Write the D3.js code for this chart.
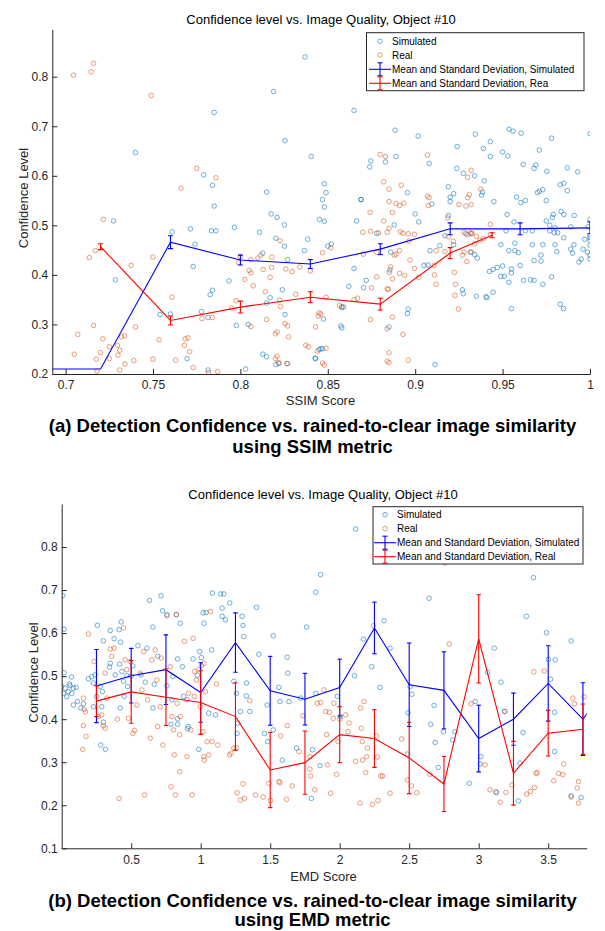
<!DOCTYPE html>
<html>
<head>
<meta charset="utf-8">
<script src="https://cdn.jsdelivr.net/npm/d3@7"></script>
<style>
  body { margin: 0; background: #fff; }
  text { font-family: "Liberation Sans", Arial, sans-serif; }
</style>
</head>
<body>
<script>
// ---------- panel (a): SSIM ----------
var ssimSim = [
[0.740,0.647],[0.785,0.728],[0.779,0.602],[0.784,0.581],[0.815,0.567],[0.819,0.770],[0.8255,0.671],[0.837,0.840],[0.8405,0.639],[0.848,0.584],[0.849,0.566],[0.865,0.732],[0.869,0.552],[0.8746,0.630],[0.874,0.618],[0.883,0.628],[0.8885,0.692],[0.889,0.639],[0.8955,0.566],[0.9017,0.680],[0.908,0.625],[0.919,0.578],[0.920,0.557],[0.9238,0.615],[0.924,0.659],[0.9276,0.605],[0.9344,0.684],[0.934,0.600],[0.9395,0.590],[0.938,0.561],[0.939,0.655],[0.943,0.669],[0.943,0.639],[0.950,0.648],[0.953,0.640],[0.9537,0.694],[0.956,0.690],[0.9606,0.686],[0.9618,0.623],[0.958,0.557],[0.968,0.615],[0.969,0.622],[0.970,0.566],[0.971,0.652],[0.973,0.572],[0.9753,0.609],[0.978,0.676],[0.983,0.582],[0.985,0.585],[0.987,0.616],[0.987,0.570],[0.993,0.608],[1.0,0.685],
[0.7274,0.509],[0.7285,0.390],[0.754,0.320],[0.760,0.321],[0.761,0.487],[0.7714,0.493],[0.774,0.462],[0.773,0.417],[0.7695,0.231],[0.7777,0.326],[0.7815,0.314],[0.7827,0.360],[0.784,0.369],[0.7834,0.489],[0.786,0.489],[0.785,0.539],[0.7815,0.208],[0.7935,0.388],[0.7966,0.496],[0.7977,0.298],[0.803,0.210],[0.8045,0.300],[0.811,0.486],[0.8128,0.444],[0.815,0.343],[0.817,0.354],[0.8176,0.523],[0.821,0.516],[0.8203,0.474],[0.8252,0.501],[0.8252,0.458],[0.8255,0.320],[0.824,0.370],[0.827,0.431],[0.8128,0.240],[0.815,0.235],[0.8203,0.219],[0.822,0.221],[0.827,0.221],[0.8366,0.449],[0.8385,0.472],[0.8427,0.232],[0.845,0.249],[0.8452,0.512],[0.848,0.537],[0.848,0.508],[0.847,0.552],[0.850,0.458],
[0.852,0.462],[0.865,0.413],[0.862,0.377],[0.8705,0.374],[0.872,0.389],[0.858,0.334],[0.859,0.335],[0.8575,0.297],[0.858,0.293],[0.8475,0.311],[0.846,0.251],[0.847,0.251],[0.843,0.231],[0.869,0.552],[0.8665,0.509],[0.878,0.484],[0.888,0.501],[0.886,0.446],[0.8855,0.410],[0.896,0.331],[0.8955,0.322],[0.885,0.295],[0.9,0.523],[0.902,0.507],[0.9095,0.543],[0.9085,0.449],[0.905,0.419],[0.9073,0.420],[0.9113,0.219],[0.914,0.459],[0.917,0.479],[0.922,0.564],[0.920,0.548],[0.919,0.520],[0.927,0.370],[0.9275,0.362],[0.922,0.461],[0.929,0.483],[0.932,0.483],[0.932,0.446],[0.934,0.441],[0.9355,0.434],[0.935,0.357],[0.9385,0.567],[0.945,0.548],[0.9446,0.411],[0.9405,0.356],[0.941,0.354],[0.9446,0.365],[0.9425,0.407],[0.947,0.415],[0.949,0.461],[0.950,0.418],[0.952,0.489],[0.9526,0.522],[0.949,0.397],[0.951,0.397],[0.9535,0.449],[0.955,0.332],[0.9565,0.507],[0.957,0.464],[0.957,0.449],[0.955,0.412],[0.955,0.404],[0.9536,0.385],[0.959,0.445],[0.960,0.419],[0.9604,0.546],[0.963,0.550],[0.962,0.389],[0.966,0.390],[0.968,0.389],[0.963,0.489],[0.967,0.489],[0.968,0.429],[0.967,0.461],[0.971,0.569],[0.973,0.461],[0.972,0.440],[0.972,0.428],[0.973,0.381],[0.975,0.550],[0.975,0.509],[0.977,0.500],[0.978,0.396],[0.9785,0.516],[0.977,0.489],[0.979,0.522],[0.980,0.495],[0.9795,0.485],[0.9815,0.485],[0.980,0.461],[0.981,0.447],[0.9835,0.528],[0.985,0.522],[0.983,0.341],[0.9848,0.332],[0.985,0.475],[0.989,0.452],[0.990,0.444],[0.989,0.497],[0.991,0.520],[0.9908,0.461],[0.9937,0.426],[0.995,0.432],[0.996,0.452],[0.997,0.472],[0.999,0.497],[1.0,0.480],[1.0,0.512],[0.9985,0.446],[1.0,0.440],[1.0,0.460],[1.0,0.470],[1.0,0.475],[1.0,0.432]
];
var ssimReal = [
[0.7045,0.803],[0.7146,0.810],[0.716,0.827],[0.749,0.762],[0.775,0.615],[0.786,0.596],[0.766,0.575],[0.880,0.643],[0.883,0.639],[0.882,0.588],[0.885,0.573],[0.892,0.581],[0.907,0.642],[0.908,0.556],[0.930,0.597],[0.932,0.611],[0.9375,0.573],[0.930,0.556],
[0.7216,0.512],[0.717,0.449],[0.7136,0.435],[0.716,0.298],[0.707,0.280],[0.705,0.240],[0.7213,0.271],[0.7176,0.230],[0.720,0.243],[0.718,0.206],[0.725,0.255],[0.725,0.231],[0.730,0.238],[0.7297,0.258],[0.732,0.275],[0.7337,0.277],[0.731,0.248],[0.734,0.220],[0.731,0.208],[0.7375,0.419],[0.740,0.295],[0.739,0.227],[0.750,0.436],[0.7535,0.269],[0.750,0.230],[0.7608,0.355],[0.763,0.228],[0.7685,0.271],[0.770,0.273],[0.768,0.258],[0.771,0.245],[0.773,0.213],[0.7817,0.203],[0.787,0.205],[0.778,0.312],[0.784,0.314],[0.795,0.333],[0.7975,0.348],[0.800,0.437],[0.799,0.425],[0.8025,0.391],[0.805,0.409],[0.806,0.404],[0.8074,0.378],[0.806,0.296],[0.806,0.431],[0.810,0.434],[0.8117,0.440],[0.8143,0.366],[0.813,0.411],[0.815,0.310],[0.8178,0.415],[0.818,0.436],[0.817,0.395],[0.820,0.281],[0.821,0.285],[0.8227,0.469],[0.821,0.236],[0.820,0.231],[0.822,0.223],[0.823,0.336],[0.8225,0.349],[0.8255,0.302],[0.827,0.297],[0.8275,0.275],[0.8265,0.221],[0.826,0.412],[0.8296,0.407],[0.8317,0.361],[0.834,0.416],[0.8374,0.258],[0.839,0.255],[0.840,0.408],[0.8445,0.317],[0.846,0.321],[0.844,0.246],[0.847,0.222],[0.848,0.218],[0.849,0.252],
[0.847,0.445],[0.8517,0.455],[0.849,0.355],[0.845,0.323],[0.843,0.295],[0.8567,0.338],[0.858,0.336],[0.867,0.353],[0.865,0.350],[0.8704,0.442],[0.870,0.486],[0.8742,0.526],[0.8745,0.488],[0.879,0.485],[0.878,0.446],[0.878,0.396],[0.875,0.374],[0.8744,0.310],[0.885,0.548],[0.889,0.544],[0.887,0.526],[0.891,0.540],[0.8935,0.545],[0.882,0.509],[0.885,0.494],[0.884,0.486],[0.8915,0.487],[0.893,0.484],[0.896,0.483],[0.8963,0.468],[0.891,0.449],[0.889,0.442],[0.888,0.440],[0.886,0.416],[0.8852,0.405],[0.887,0.392],[0.891,0.403],[0.894,0.399],[0.8846,0.371],[0.884,0.372],[0.887,0.315],[0.884,0.291],[0.893,0.280],[0.896,0.228],[0.885,0.223],[0.884,0.226],[0.885,0.243],[0.8996,0.482],[0.897,0.430],[0.8996,0.413],[0.902,0.395],[0.9108,0.419],[0.911,0.400],[0.912,0.381],[0.907,0.559],[0.9075,0.540],[0.912,0.449],[0.917,0.447],[0.9186,0.515],[0.919,0.477],[0.9218,0.468],[0.9224,0.405],[0.923,0.381],[0.9227,0.359],[0.9247,0.331],[0.925,0.542],[0.929,0.539],[0.932,0.542],[0.931,0.562],[0.928,0.486],[0.930,0.481],[0.9315,0.485],[0.9325,0.484],[0.935,0.478],[0.937,0.470],[0.939,0.473],[0.934,0.463],[0.928,0.446],[0.9315,0.446],[0.927,0.440],[0.9295,0.427],[0.943,0.502],[0.943,0.481]
];
var ssimSimBins  = [0.68, 0.72, 0.76, 0.80, 0.84, 0.88, 0.92, 0.96, 1.00];
var ssimSimMean  = [0.210, 0.210, 0.466, 0.430, 0.422, 0.452, 0.493, 0.493, 0.495];
var ssimSimStd   = [0, 0, 0.013, 0.010, 0.009, 0.011, 0.012, 0.012, 0.012];
var ssimRealBins = [0.72, 0.76, 0.80, 0.84, 0.88, 0.92, 0.944];
var ssimRealMean = [0.457, 0.308, 0.335, 0.355, 0.341, 0.444, 0.480];
var ssimRealStd  = [0.006, 0.009, 0.012, 0.011, 0.012, 0.011, 0.005];
var ssimXTicks = [0.7, 0.75, 0.8, 0.85, 0.9, 0.95, 1];
var ssimYTicks = [0.2, 0.3, 0.4, 0.5, 0.6, 0.7, 0.8];

// ---------- panel (b): EMD ----------
var emdSim = [
[0.007,0.687],[0.017,0.609],[0.017,0.508],[0.0,0.476],[0.024,0.472],[0.06,0.478],[0.048,0.464],[0.012,0.46],[0.036,0.452],[0.072,0.46],[0.084,0.472],[0.103,0.474],[0.055,0.482],[0.07,0.498],[0.084,0.433],[0.113,0.441],[0.137,0.426],[0.156,0.436],[0.192,0.494],[0.216,0.499],[0.228,0.484],[0.24,0.503],[0.257,0.618],[0.3,0.582],[0.349,0.606],[0.377,0.587],[0.413,0.608],[0.428,0.626],[0.423,0.579],[0.276,0.476],[0.252,0.453],[0.228,0.429],[0.293,0.464],[0.288,0.429],[0.281,0.34],[0.315,0.33],[0.3,0.393],[0.344,0.521],[0.349,0.53],[0.385,0.503],[0.416,0.528],[0.433,0.511],[0.445,0.488],[0.469,0.501],[0.474,0.476],[0.45,0.453],[0.421,0.426],[0.5,0.5],[0.512,0.524],[0.548,0.571],[0.57,0.503],[0.601,0.486],[0.613,0.565],[0.632,0.676],[0.656,0.614],[0.69,0.546],[0.666,0.481],[0.656,0.426],[0.714,0.687],[0.726,0.652],[0.757,0.643],[0.825,0.643],[0.853,0.623],[0.834,0.54],[0.8,0.499],[0.757,0.478],[0.786,0.388],[0.834,0.388],[0.834,0.401],[0.793,0.445],[0.877,0.453],[0.868,0.522],[0.901,0.445],[0.911,0.383],[0.906,0.378],[0.945,0.54],[0.976,0.502],[0.993,0.557],[1.005,0.543],[1.017,0.647],[1.024,0.623],[1.038,0.648],[0.986,0.33],[1.058,0.414],[1.084,0.693],[1.079,0.561],[1.106,0.41],[1.144,0.691],[1.166,0.691],[1.154,0.658],[1.154,0.639],[1.178,0.631],[1.209,0.67],[1.238,0.488],[1.257,0.46],[1.262,0.367],[1.267,0.391],[1.286,0.418],[1.298,0.639],[1.305,0.618],[1.31,0.592],[1.329,0.484],[1.329,0.454],[1.353,0.418],[1.401,0.66],[1.418,0.551],[1.459,0.367],[1.478,0.433],[1.483,0.348],[1.522,0.594],[1.522,0.375],[1.562,0.474],[1.57,0.441],[1.587,0.305],[1.622,0.544],[1.627,0.507],[1.635,0.441],[1.69,0.333],[1.719,0.449],[1.762,0.614],[1.796,0.216],[1.805,0.329],[1.827,0.695],[1.863,0.736],[1.829,0.46],[1.858,0.292],
[1.982,0.453],[2.006,0.406],[2.107,0.501],[2.17,0.586],[2.23,0.522],[2.29,0.474],[2.319,0.629],[2.362,0.565],[2.492,0.415],[2.507,0.476],[2.519,0.458],[2.488,0.319],[2.643,0.681],[2.655,0.388],[2.679,0.432],[2.687,0.346],[2.709,0.288],[2.747,0.371],[2.812,0.352],[2.829,0.371],[2.932,0.251],[2.975,0.441],[3.016,0.313],[3.011,0.296],[3.064,0.509],[3.112,0.565],[3.127,0.229],[3.16,0.486],[3.184,0.418],[3.285,0.21],[3.297,0.298],[3.319,0.369],[3.343,0.639],[3.394,0.729],[3.488,0.601],[3.502,0.539],[3.517,0.493],[3.551,0.538],[3.546,0.416],[3.546,0.325],[3.665,0.582],[3.665,0.222],[3.737,0.218],[2.115,0.842]
];
var emdReal = [
[0.192,0.598],[0.233,0.534],[0.151,0.33],[0.156,0.385],[0.175,0.36],[0.161,0.423],[0.156,0.449],[0.17,0.417],[0.264,0.406],[0.3,0.385],[0.313,0.379],[0.288,0.41],[0.325,0.449],[0.313,0.507],[0.349,0.563],[0.377,0.565],[0.36,0.546],[0.401,0.4],[0.445,0.612],[0.413,0.216],[0.457,0.538],[0.469,0.515],[0.493,0.534],[0.481,0.402],[0.512,0.367],[0.524,0.374],[0.541,0.433],[0.565,0.507],[0.577,0.468],[0.589,0.557],[0.596,0.224],[0.618,0.445],[0.637,0.356],[0.649,0.538],[0.673,0.561],[0.685,0.491],[0.69,0.383],[0.709,0.429],[0.716,0.542],[0.728,0.34],[0.757,0.64],[0.781,0.522],[0.793,0.406],[0.805,0.375],[0.81,0.317],[0.786,0.243],[0.817,0.224],[0.825,0.643],[0.849,0.364],[0.849,0.278],[0.829,0.437],[0.853,0.406],[0.882,0.581],[0.901,0.313],[0.913,0.46],[0.93,0.375],[0.938,0.224],[0.945,0.588],[0.957,0.511],[0.969,0.491],[0.954,0.453],[0.986,0.515],[1.005,0.524],[1.034,0.464],[0.998,0.429],[1.022,0.53],[1.017,0.371],[1.022,0.313],[1.026,0.305],[1.046,0.348],[1.07,0.65],[1.058,0.317],[1.082,0.348],[1.113,0.482],[1.123,0.34],[1.207,0.317],[1.219,0.321],[1.238,0.333],[1.257,0.334],[1.262,0.229],[1.286,0.212],[1.305,0.25],[1.315,0.216],[1.353,0.443],[1.394,0.224],[1.449,0.219],[1.49,0.251],[1.502,0.211],[1.562,0.255],[1.57,0.253],[1.575,0.361],[1.618,0.214],[1.622,0.385],[1.659,0.245],[1.707,0.325],[1.736,0.408],[1.786,0.313],[1.786,0.284],[1.791,0.268],[1.82,0.236],[1.839,0.437],[1.863,0.439],[1.887,0.468],[1.899,0.418],[1.925,0.416],[1.906,0.364],[1.911,0.294],[1.935,0.228],
[1.958,0.437],[1.953,0.402],[1.978,0.272],[1.988,0.348],[2.002,0.4],[2.043,0.41],[2.067,0.391],[2.06,0.371],[2.115,0.302],[2.151,0.426],[2.175,0.441],[2.156,0.379],[2.163,0.348],[2.165,0.305],[2.194,0.313],[2.187,0.276],[2.199,0.333],[2.146,0.205],[2.235,0.202],[2.275,0.211],[2.242,0.617],[2.266,0.361],[2.271,0.312],[2.295,0.268],[2.307,0.268],[2.362,0.228],[2.446,0.354],[2.487,0.259],[2.516,0.245],[2.555,0.229],[2.649,0.272],[2.788,0.575],[2.944,0.436],[3.045,0.294],[3.081,0.236],[3.124,0.232],[3.155,0.207],[3.196,0.23],[3.239,0.247],[3.19,0.418],[3.345,0.226],[3.372,0.232],[3.401,0.241],[3.413,0.274],[3.42,0.276],[3.472,0.512],[3.54,0.257],[3.574,0.274],[3.605,0.271],[3.612,0.296],[3.665,0.219],[3.677,0.449],[3.689,0.436],[3.708,0.24],[3.718,0.255],[3.718,0.205],[2.757,0.763],[3.397,0.51],[3.758,0.452]
];
var emdSimBins  = [0.25, 0.5, 0.75, 1.0, 1.25, 1.5, 1.75, 2.0, 2.25, 2.5, 2.75, 3.0, 3.25, 3.5, 3.75, 4.0];
var emdSimMean  = [0.477, 0.501, 0.515, 0.462, 0.578, 0.466, 0.4465, 0.4735, 0.612, 0.480, 0.467, 0.355, 0.400, 0.483, 0.400, 0.510];
var emdSimStd   = [0.085, 0.0635, 0.081, 0.069, 0.069, 0.080, 0.060, 0.066, 0.060, 0.097, 0.0895, 0.0775, 0.0605, 0.0875, 0.0845, 0.080];
var emdRealBins = [0.25, 0.5, 0.75, 1.0, 1.25, 1.5, 1.75, 2.0, 2.25, 2.5, 2.75, 3.0, 3.25, 3.5, 3.75];
var emdRealMean = [0.442, 0.4635, 0.451, 0.4386, 0.406, 0.282, 0.299, 0.364, 0.355, 0.310, 0.2495, 0.5867, 0.2744, 0.3674, 0.3767];
var emdRealStd  = [0.036, 0.073, 0.0655, 0.074, 0.0785, 0.0875, 0.0735, 0.065, 0.067, 0.083, 0.064, 0.1025, 0.074, 0.053, 0.0585];
var emdXTicks = [0.5, 1, 1.5, 2, 2.5, 3, 3.5];
var emdYTicks = [0.1, 0.2, 0.3, 0.4, 0.5, 0.6, 0.7, 0.8];

var simColor = "#0072BD", realColor = "#D95319";
var axisColor = "#262626";

var svg = d3.select("body").append("svg")
    .attr("width", 605)
    .attr("height", 931);

function errorBars(g, x, y, bins, mean, std, color, cap) {
  var pts = bins.map(function(b, i) { return {x: b, m: mean[i], s: std[i]}; });
  g.append("path")
    .datum(pts)
    .attr("fill", "none")
    .attr("stroke", color)
    .attr("stroke-width", 1.1)
    .attr("d", d3.line().x(function(d) { return x(d.x); }).y(function(d) { return y(d.m); }));
  var eb = g.selectAll(null).data(pts.filter(function(d) { return d.s > 0; }))
    .enter().append("g").attr("stroke", color).attr("stroke-width", 1.1);
  eb.append("line")
    .attr("x1", function(d) { return x(d.x); }).attr("x2", function(d) { return x(d.x); })
    .attr("y1", function(d) { return y(d.m - d.s); }).attr("y2", function(d) { return y(d.m + d.s); });
  eb.append("line")
    .attr("x1", function(d) { return x(d.x) - cap; }).attr("x2", function(d) { return x(d.x) + cap; })
    .attr("y1", function(d) { return y(d.m - d.s); }).attr("y2", function(d) { return y(d.m - d.s); });
  eb.append("line")
    .attr("x1", function(d) { return x(d.x) - cap; }).attr("x2", function(d) { return x(d.x) + cap; })
    .attr("y1", function(d) { return y(d.m + d.s); }).attr("y2", function(d) { return y(d.m + d.s); });
}

function panel(o) {
  var x = d3.scaleLinear().domain(o.xDomain).range([o.left, o.right]);
  var y = d3.scaleLinear().domain(o.yDomain).range([o.bottom, o.top]);
  var g = svg.append("g");

  svg.append("clipPath").attr("id", o.id)
    .append("rect")
    .attr("x", o.left).attr("y", o.top)
    .attr("width", o.right - o.left).attr("height", o.bottom - o.top);

  var plot = g.append("g").attr("clip-path", "url(#" + o.id + ")");

  // scatter
  plot.selectAll(null).data(o.sim).enter().append("circle")
    .attr("cx", function(d) { return x(d[0]); })
    .attr("cy", function(d) { return y(d[1]); })
    .attr("r", 2.3)
    .attr("fill", "none")
    .attr("stroke", simColor)
    .attr("stroke-opacity", 0.7)
    .attr("stroke-width", 0.8);
  plot.selectAll(null).data(o.real).enter().append("circle")
    .attr("cx", function(d) { return x(d[0]); })
    .attr("cy", function(d) { return y(d[1]); })
    .attr("r", 2.3)
    .attr("fill", "none")
    .attr("stroke", realColor)
    .attr("stroke-opacity", 0.7)
    .attr("stroke-width", 0.8);

  // mean and std
  errorBars(plot, x, y, o.simBins, o.simMean, o.simStd, "#0000ff", o.cap);
  errorBars(plot, x, y, o.realBins, o.realMean, o.realStd, "#ff0000", o.cap);

  // axes
  var xa = g.append("g")
    .attr("transform", "translate(0," + o.bottom + ")")
    .call(d3.axisBottom(x).tickValues(o.xTicks).tickFormat(d3.format("")).tickSizeInner(-5).tickSizeOuter(0).tickPadding(o.xPad));
  var ya = g.append("g")
    .attr("transform", "translate(" + o.left + ",0)")
    .call(d3.axisLeft(y).tickValues(o.yTicks).tickFormat(d3.format("")).tickSizeInner(-5).tickSizeOuter(0).tickPadding(4));
  [xa, ya].forEach(function(a) {
    a.attr("font-family", null).attr("font-size", 12);
    a.selectAll("path, line").attr("stroke", axisColor).attr("stroke-width", 1);
    a.selectAll("text").attr("fill", axisColor);
  });

  // titles
  g.append("text").attr("x", o.titleX).attr("y", o.titleY)
    .attr("text-anchor", "middle").attr("font-size", 13).attr("fill", "#000")
    .text("Confidence level vs. Image Quality, Object #10");
  g.append("text").attr("x", o.xLabelX).attr("y", o.xLabelY)
    .attr("text-anchor", "middle").attr("font-size", 13).attr("fill", axisColor)
    .text(o.xLabel);
  g.append("text")
    .attr("transform", "translate(" + o.yLabelX + "," + o.yLabelY + ") rotate(-90)")
    .attr("text-anchor", "middle").attr("font-size", 13).attr("fill", axisColor)
    .text("Confidence Level");

  // legend
  var L = o.legend;
  var lg = g.append("g");
  lg.append("rect")
    .attr("x", L.x0).attr("y", L.y0)
    .attr("width", L.x1 - L.x0).attr("height", L.y1 - L.y0)
    .attr("fill", "#fff").attr("stroke", axisColor).attr("stroke-width", 1);
  var items = [
    {label: "Simulated", type: "dot", color: simColor},
    {label: "Real", type: "dot", color: realColor},
    {label: "Mean and Standard Deviation, Simulated", type: "bar", color: "#0000ff"},
    {label: o.realLegend, type: "bar", color: "#ff0000"}
  ];
  items.forEach(function(it, i) {
    var cy = L.rows[i];
    if (it.type === "dot") {
      lg.append("circle").attr("cx", L.mark).attr("cy", cy).attr("r", 2.3)
        .attr("fill", "none").attr("stroke", it.color).attr("stroke-opacity", 0.7).attr("stroke-width", 0.8);
    } else {
      var s = lg.append("g").attr("stroke", it.color).attr("stroke-width", 1.1);
      s.append("line").attr("x1", L.lineX0).attr("x2", L.textX).attr("y1", cy).attr("y2", cy);
      s.append("line").attr("x1", L.mark).attr("x2", L.mark).attr("y1", cy - 6.5).attr("y2", cy + 6.5);
      s.append("line").attr("x1", L.mark - 2.5).attr("x2", L.mark + 2.5).attr("y1", cy - 6.5).attr("y2", cy - 6.5);
      s.append("line").attr("x1", L.mark - 2.5).attr("x2", L.mark + 2.5).attr("y1", cy + 6.5).attr("y2", cy + 6.5);
    }
    lg.append("text").attr("x", L.textX + 1).attr("y", cy).attr("dy", "0.35em")
      .attr("font-size", 10).attr("fill", "#000").text(it.label);
  });

  // caption
  o.caption.forEach(function(c) {
    svg.append("text").attr("x", 312.5).attr("y", c.y)
      .attr("text-anchor", "middle").attr("font-size", 18.5).attr("font-weight", "bold")
      .attr("fill", "#000").text(c.t);
  });
}

panel({
  id: "clipA",
  left: 52.3, right: 590, top: 29.3, bottom: 374,
  xDomain: [0.6924, 1], yDomain: [0.2, 0.8957],
  xTicks: ssimXTicks, yTicks: ssimYTicks, xPad: 6,
  sim: ssimSim, real: ssimReal,
  simBins: ssimSimBins, simMean: ssimSimMean, simStd: ssimSimStd,
  realBins: ssimRealBins, realMean: ssimRealMean, realStd: ssimRealStd,
  cap: 2.5,
  titleX: 321, titleY: 24.3,
  xLabel: "SSIM Score", xLabelX: 320.5, xLabelY: 405,
  yLabelX: 28.3, yLabelY: 198,
  realLegend: "Mean and Standard Deviation, Rea",
  legend: {x0: 366.5, x1: 584, y0: 32.7, y1: 90.7, rows: [41.3, 55, 69.3, 83.3], mark: 380, lineX0: 369, textX: 391},
  caption: [
    {t: "(a) Detection Confidence vs. rained-to-clear image similarity", y: 431.7},
    {t: "using SSIM metric", y: 453.3}
  ]
});

panel({
  id: "clipB",
  left: 61.7, right: 586.7, top: 504, bottom: 848.3,
  xDomain: [0, 3.777], yDomain: [0.1, 0.9],
  xTicks: emdXTicks, yTicks: emdYTicks, xPad: 7,
  sim: emdSim, real: emdReal,
  simBins: emdSimBins, simMean: emdSimMean, simStd: emdSimStd,
  realBins: emdRealBins, realMean: emdRealMean, realStd: emdRealStd,
  cap: 2.2,
  titleX: 323, titleY: 499.3,
  xLabel: "EMD Score", xLabelX: 323.5, xLabelY: 880.5,
  yLabelX: 38.3, yLabelY: 672.5,
  realLegend: "Mean and Standard Deviation, Real",
  legend: {x0: 373, x1: 583, y0: 506.7, y1: 564, rows: [514.7, 528.7, 542.7, 556.7], mark: 385, lineX0: 374, textX: 396},
  caption: [
    {t: "(b) Detection Confidence vs. rained-to-clear image similarity", y: 906.7},
    {t: "using EMD metric", y: 926}
  ]
});
</script>
</body>
</html>
